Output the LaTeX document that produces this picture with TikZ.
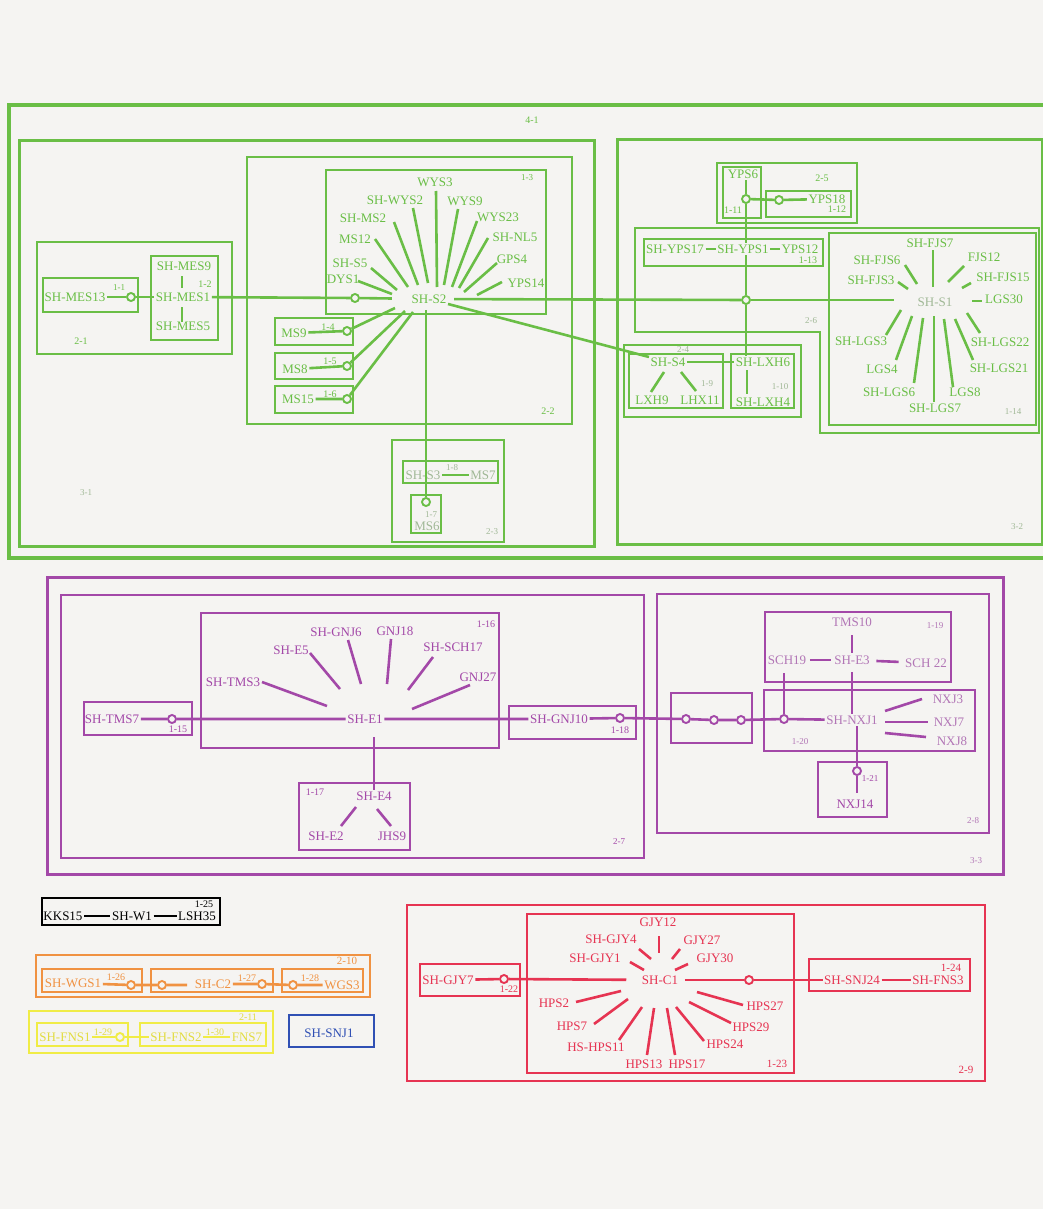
\documentclass[tikz,border=0pt]{standalone}
\usepackage{fontspec}
\setmainfont{Liberation Serif}
\definecolor{bg}{RGB}{245,244,242}
\definecolor{G}{RGB}{106,190,70}
\definecolor{Gf}{RGB}{160,184,150}
\definecolor{P}{RGB}{163,72,168}
\definecolor{Pm}{RGB}{178,118,182}
\definecolor{R}{RGB}{230,52,82}
\definecolor{O}{RGB}{240,146,66}
\definecolor{Y}{RGB}{240,236,70}
\definecolor{Yt}{RGB}{226,220,64}
\definecolor{B}{RGB}{48,80,180}
\newcommand\segm[4]{\coordinate (#1a) at (#3);\coordinate (#1b) at (#4);\draw[#2] (#1a) -- (#1b);}
\tikzset{
 tx/.style={inner sep=1.5pt, font=\fontsize{13}{14}\selectfont},
 lb/.style={inner sep=0pt, font=\fontsize{10}{11}\selectfont},
 lbs/.style={inner sep=0pt, font=\fontsize{9}{10}\selectfont},
 bx/.style={line width=2.8pt},
 ln/.style={line width=2.6pt},
 cir/.style={circle, draw, line width=1.9pt, minimum size=8pt, inner sep=0pt, fill=bg},
 gt/.style={tx,text=G}, gft/.style={tx,text=Gf},
 gb/.style={bx,draw=G}, gl/.style={ln,draw=G}, gc/.style={cir,draw=G},
 pt/.style={tx,text=P}, pmt/.style={tx,text=Pm},
 pb/.style={bx,draw=P}, pl/.style={ln,draw=P}, pc/.style={cir,draw=P},
 rt/.style={tx,text=R}, rb/.style={bx,draw=R}, rl/.style={ln,draw=R}, rc/.style={cir,draw=R},
 ot/.style={tx,text=O}, ob/.style={bx,draw=O}, ol/.style={ln,draw=O}, oc/.style={cir,draw=O},
 yt/.style={tx,text=Yt}, yb/.style={bx,draw=Y}, yl/.style={ln,draw=Y}, yc/.style={cir,draw=Y},
}
\begin{document}
\begin{tikzpicture}[x=1pt,y=-1pt]
\useasboundingbox (0,0) rectangle (1043,1209);
\fill[bg] (0,0) rectangle (1043,1209);

% ================= GREEN =================
\draw[gb,line width=3.3pt] (9,105) rectangle (1046,558);
\node[lb,text=G] (l41) at (532,120) {4-1};
\draw[gb,line width=3pt] (19,141) rectangle (594,546);
\node[lbs,text=Gf] (l31) at (86,493) {3-1};
\draw[gb] (37,242) rectangle (232,354);
\node[lb,text=G] (l21) at (81,341) {2-1};
\draw[gb] (43,278) rectangle (138,312);
\node[lbs,text=G] (l11) at (119,288) {1-1};
\draw[gb] (151,256) rectangle (218,340);
\node[lb,text=G] (l12) at (205,284) {1-2};
\draw[gb] (247,157) rectangle (572,424);
\node[lb,text=G] (l22) at (548,411) {2-2};
\draw[gb] (326,170) rectangle (546,314);
\node[lbs,text=G] (l13) at (527,178) {1-3};
\draw[gb] (275,318) rectangle (353,345);
\node[lb,text=G] (l14) at (328,327) {1-4};
\draw[gb] (275,353) rectangle (353,379);
\node[lb,text=G] (l15) at (330,361) {1-5};
\draw[gb] (275,386) rectangle (353,413);
\node[lb,text=G] (l16) at (330,394) {1-6};
\draw[gb] (392,440) rectangle (504,542);
\node[lbs,text=Gf] (l23) at (492,532) {2-3};
\draw[gb] (403,461) rectangle (498,483);
\node[lbs,text=Gf] (l18) at (452,468) {1-8};
\draw[gb] (411,495) rectangle (441,533);
\node[lbs,text=Gf] (l17) at (431,515) {1-7};

\draw[gb,line width=3pt] (617,140) rectangle (1042,544);
\node[lbs,text=Gf] (l32) at (1017,527) {3-2};
\draw[gb] (717,163) rectangle (857,223);
\node[lb,text=G] (l25) at (822,178) {2-5};
\draw[gb] (723,167) rectangle (761,218);
\node[lb,text=G] (l111) at (733,210) {1-11};
\draw[gb] (766,191) rectangle (851,217);
\node[lb,text=G] (l112) at (837,209) {1-12};
\draw[gb] (635,228) -- (1039,228) -- (1039,433) -- (820,433) -- (820,332) -- (635,332) -- cycle;
\node[lbs,text=Gf] (l26) at (811,321) {2-6};
\draw[gb] (644,239) rectangle (823,266);
\node[lb,text=G] (l113) at (808,260) {1-13};
\draw[gb] (829,233) rectangle (1036,425);
\node[lbs,text=Gf] (l114) at (1013,412) {1-14};
\draw[gb] (624,345) rectangle (801,417);
\node[lbs,text=Gf] (l24) at (683,350) {2-4};
\draw[gb] (629,354) rectangle (723,408);
\node[lbs,text=Gf] (l19) at (707,384) {1-9};
\draw[gb] (731,354) rectangle (794,408);
\node[lbs,text=Gf] (l110) at (780,387) {1-10};

% green nodes
\node[gt] (mes13) at (75,297) {SH-MES13};
\node[gc] (c11) at (131,297) {};
\node[gt] (mes9) at (184,266) {SH-MES9};
\node[gt] (mes1) at (183,297) {SH-MES1};
\node[gt] (mes5) at (183,326) {SH-MES5};
\node[gc] (c13) at (355,298) {};
\node[gt] (s2) at (429,299) {SH-S2};
\node[gt] (dys1) at (343,279) {DYS1};
\node[gt] (shs5) at (350,263) {SH-S5};
\node[gt] (ms12) at (355,239) {MS12};
\node[gt] (shms2) at (363,218) {SH-MS2};
\node[gt] (wys2) at (395,200) {SH-WYS2};
\node[gt] (wys3) at (435,182) {WYS3};
\node[gt] (wys9) at (465,201) {WYS9};
\node[gt] (wys23) at (498,217) {WYS23};
\node[gt] (nl5) at (515,237) {SH-NL5};
\node[gt] (gps4) at (512,259) {GPS4};
\node[gt] (yps14) at (526,283) {YPS14};
\node[gt] (ms9) at (294,333) {MS9};
\node[gc] (c14) at (347,331) {};
\node[gt] (ms8) at (295,369) {MS8};
\node[gc] (c15) at (347,366) {};
\node[gt] (ms15) at (298,399) {MS15};
\node[gc] (c16) at (347,399) {};
\node[gft] (s3) at (423,475) {SH-S3};
\node[gft] (ms7) at (483,475) {MS7};
\node[gft] (ms6) at (427,526) {MS6};
\node[gc] (c17) at (426,502) {};

\node[gt] (yps6) at (743,174) {YPS6};
\node[gc] (c111) at (746,199) {};
\node[gc] (c112) at (779,200) {};
\node[gt] (yps18) at (827,199) {YPS18};
\node[gt] (yps17) at (675,249) {SH-YPS17};
\node[gt] (yps1) at (743,249) {SH-YPS1};
\node[gt] (yps12) at (800,249) {YPS12};
\node[gc] (c26) at (746,300) {};
\node[gt] (s4) at (668,362) {SH-S4};
\node[gt] (lxh9) at (652,400) {LXH9};
\node[gt] (lhx11) at (700,400) {LHX11};
\node[gt] (lxh6) at (763,362) {SH-LXH6};
\node[gt] (lxh4) at (763,402) {SH-LXH4};
\node[gft] (s1) at (935,302) {SH-S1};
\node[gt] (fjs7) at (930,243) {SH-FJS7};
\node[gt] (fjs6) at (877,260) {SH-FJS6};
\node[gt] (fjs3) at (871,280) {SH-FJS3};
\node[gt] (fjs12) at (984,257) {FJS12};
\node[gt] (fjs15) at (1003,277) {SH-FJS15};
\node[gt] (lgs30) at (1004,299) {LGS30};
\node[gt] (lgs3) at (861,341) {SH-LGS3};
\node[gt] (lgs4) at (882,369) {LGS4};
\node[gt] (lgs6) at (889,392) {SH-LGS6};
\node[gt] (lgs7) at (935,408) {SH-LGS7};
\node[gt] (lgs8) at (965,392) {LGS8};
\node[gt] (lgs21) at (999,368) {SH-LGS21};
\node[gt] (lgs22) at (1000,342) {SH-LGS22};

% green connectors
\draw[gl] (mes13) -- (c11) -- (mes1);
\segm{m1}{gl}{182,276}{182,288}
\segm{m2}{gl}{182,307}{182,322}
\draw[gl] (mes1) -- (c13);
\draw[gl,shorten >=18pt] (c13) -- (s2);
\draw[gl,shorten <=6pt] (s2) -- (c26);
\draw[gl,shorten >=22pt] (c26) -- (s1.west |- c26);
\segm{a1}{gl}{358,281}{392,294}
\segm{a2}{gl}{371,268}{397,290}
\segm{a3}{gl}{375,239}{408,287}
\segm{a4}{gl}{394,222}{418,285}
\segm{a5}{gl}{413,208}{428,283}
\segm{a6}{gl}{436,191}{437,287}
\segm{a7}{gl}{458,209}{444,285}
\segm{a8}{gl}{477,221}{452,287}
\segm{a9}{gl}{488,238}{459,288}
\segm{a10}{gl}{497,263}{464,292}
\segm{a11}{gl}{502,282}{477,295}
\coordinate (b1) at (395,308);
\coordinate (b2) at (405,311);
\coordinate (b3) at (413,312);
\draw[gl] (ms9) -- (c14) -- (b1);
\draw[gl] (ms8) -- (c15) -- (b2);
\draw[gl] (ms15) -- (c16) -- (b3);
\coordinate (s2d) at (426,310);
\draw[gl] (s2d) -- (c17);
\draw[gl] (s3) -- (ms7);
\draw[gl] (s2) -- (s4);
\draw[gl] (yps6.south -| c111) -- (c111) -- (yps1.north -| c111);
\draw[gl] (c111) -- (c112) -- (yps18);
\draw[gl] (yps1.south -| c26) -- (c26) -- (lxh6.north -| c26);
\draw[gl] (yps17) -- (yps1) -- (yps12);
\draw[gl] (s4) -- (lxh6);
\segm{x1}{gl}{664,372}{651,392}
\segm{x2}{gl}{681,372}{696,391}
\segm{x3}{gl}{747,370}{747,394}
\segm{f1}{gl}{933,250}{933,287}
\segm{f2}{gl}{905,265}{917,284}
\segm{f3}{gl}{898,282}{908,289}
\segm{f4}{gl}{964,266}{948,282}
\segm{f5}{gl}{971,283}{962,288}
\segm{f6}{gl}{972,301}{982,301}
\segm{f7}{gl}{886,335}{901,310}
\segm{f8}{gl}{896,360}{912,316}
\segm{f9}{gl}{914,383}{923,318}
\segm{f10}{gl}{934,402}{934,316}
\segm{f11}{gl}{953,387}{944,319}
\segm{f12}{gl}{973,360}{955,319}
\segm{f13}{gl}{980,333}{967,313}

% ================= PURPLE =================
\draw[pb,line width=3pt] (47,577) rectangle (1003,874);
\node[lbs,text=Pm] (l33) at (976,861) {3-3};
\draw[pb] (61,595) rectangle (644,858);
\node[lbs,text=P] (l27) at (619,842) {2-7};
\draw[pb] (201,613) rectangle (499,748);
\node[lb,text=P] (l116) at (486,624) {1-16};
\draw[pb] (84,702) rectangle (192,735);
\node[lb,text=P] (l115) at (178,729) {1-15};
\draw[pb] (299,783) rectangle (410,850);
\node[lb,text=P] (l117) at (315,792) {1-17};
\draw[pb] (509,706) rectangle (636,739);
\node[lb,text=P] (l118) at (620,730) {1-18};
\draw[pb] (657,594) rectangle (989,833);
\node[lbs,text=Pm] (l28) at (973,821) {2-8};
\draw[pb] (671,693) rectangle (752,743);
\draw[pb] (765,612) rectangle (951,682);
\node[lbs,text=Pm] (l119) at (935,626) {1-19};
\draw[pb] (764,690) rectangle (975,751);
\node[lbs,text=Pm] (l120) at (800,742) {1-20};
\draw[pb] (818,762) rectangle (887,817);
\node[lbs,text=P] (l121) at (870,779) {1-21};

\node[pt] (tms7) at (112,719) {SH-TMS7};
\node[pc] (c115) at (172,719) {};
\node[pt] (e1) at (365,719) {SH-E1};
\node[pt] (tms3) at (233,682) {SH-TMS3};
\node[pt] (e5) at (291,650) {SH-E5};
\node[pt] (gnj6) at (336,632) {SH-GNJ6};
\node[pt] (gnj18) at (395,631) {GNJ18};
\node[pt] (sch17) at (453,647) {SH-SCH17};
\node[pt] (gnj27) at (478,677) {GNJ27};
\node[pt] (e4) at (374,796) {SH-E4};
\node[pt] (e2) at (326,836) {SH-E2};
\node[pt] (jhs9) at (392,836) {JHS9};
\node[pt] (gnj10) at (559,719) {SH-GNJ10};
\node[pc] (c118) at (620,718) {};
\node[pc] (ca) at (686,719) {};
\node[pc] (cb) at (714,720) {};
\node[pc] (cc) at (741,720) {};
\node[pc] (c120) at (784,719) {};
\node[pmt] (nxj1) at (852,720) {SH-NXJ1};
\node[pmt] (tms10) at (852,622) {TMS10};
\node[pmt] (e3) at (852,660) {SH-E3};
\node[pmt] (sch19) at (787,660) {SCH19};
\node[pmt] (sch22) at (926,663) {SCH 22};
\node[pmt] (nxj3) at (948,699) {NXJ3};
\node[pmt] (nxj7) at (949,722) {NXJ7};
\node[pmt] (nxj8) at (952,741) {NXJ8};
\node[pc] (c121) at (857,771) {};
\node[pt] (nxj14) at (855,804) {NXJ14};

\draw[pl] (tms7) -- (c115) -- (e1) -- (gnj10) -- (c118) -- (ca) -- (cb) -- (cc) -- (c120) -- (nxj1);
\segm{e1s1}{pl}{262,682}{327,706}
\segm{e1s2}{pl}{310,653}{340,689}
\segm{e1s3}{pl}{348,640}{361,684}
\segm{e1s4}{pl}{391,639}{387,684}
\segm{e1s5}{pl}{433,657}{408,690}
\segm{e1s6}{pl}{470,685}{412,709}
\coordinate (e1d) at (374,737);
\draw[pl] (e1d) -- (e4);
\segm{e4a}{pl}{356,807}{341,826}
\segm{e4b}{pl}{377,809}{391,826}
\draw[pl,shorten <=2pt,shorten >=2pt] (sch19) -- (e3);
\draw[pl,shorten <=5pt,shorten >=5pt] (e3) -- (sch22);
\draw[pl,shorten <=7pt,shorten >=1pt] (tms10) -- (e3);
\draw[pl,shorten <=6pt] (e3) -- (nxj1);
\draw[pl,shorten <=7pt] (sch19.south -| c120) -- (c120);
\segm{n3}{pl}{885,711}{922,699}
\segm{n7}{pl}{885,722}{928,722}
\segm{n8}{pl}{885,733}{926,737}
\coordinate (n14) at (857,793);
\draw[pl] (nxj1.south -| c121) -- (c121) -- (n14);

% ================= BLACK =================
\draw[line width=2.8pt,black] (42,898) rectangle (220,925);
\node[lb,text=black] (l125) at (204,904) {1-25};
\node[tx,text=black] (kks15) at (63,916) {KKS15};
\node[tx,text=black] (w1) at (132,916) {SH-W1};
\node[tx,text=black] (lsh35) at (197,916) {LSH35};
\draw[line width=2.6pt,black] (kks15) -- (w1) -- (lsh35);

% ================= ORANGE =================
\draw[ob] (36,955) rectangle (370,997);
\node[inner sep=0pt,font=\fontsize{11}{12}\selectfont,text=O] (l210) at (347,961) {2-10};
\draw[ob] (42,969) rectangle (142,992);
\node[lb,text=O] (l126) at (116,977) {1-26};
\draw[ob] (151,969) rectangle (273,992);
\node[lb,text=O] (l127) at (247,978) {1-27};
\draw[ob] (282,969) rectangle (363,992);
\node[lb,text=O] (l128) at (310,978) {1-28};
\node[ot] (wgs1) at (73,983) {SH-WGS1};
\node[oc] (c126) at (131,985) {};
\node[oc] (c127a) at (162,985) {};
\coordinate (o1) at (187,985);
\node[ot] (c2) at (213,984) {SH-C2};
\node[oc] (c127) at (262,984) {};
\node[oc] (c128) at (293,985) {};
\node[ot] (wgs3) at (342,985) {WGS3};
\draw[ol] (wgs1) -- (c126) -- (c127a) -- (o1);
\draw[ol] (c2) -- (c127) -- (c128) -- (wgs3);

% ================= YELLOW =================
\draw[yb] (29,1011) rectangle (273,1053);
\node[lb,text=Yt] (l211) at (248,1017) {2-11};
\draw[yb] (37,1023) rectangle (128,1046);
\node[lb,text=Yt] (l129) at (103,1032) {1-29};
\draw[yb] (140,1023) rectangle (266,1046);
\node[lb,text=Yt] (l130) at (215,1032) {1-30};
\node[yt] (fns1) at (65,1037) {SH-FNS1};
\node[yc] (c129) at (120,1037) {};
\node[yt] (fns2) at (176,1037) {SH-FNS2};
\node[yt] (fns7) at (247,1037) {FNS7};
\draw[yl] (fns1) -- (c129) -- (fns2);
\draw[yl] (fns2) -- (fns7);

% ================= BLUE =================
\draw[bx,draw=B] (289,1015) rectangle (374,1047);
\node[tx,text=B] (snj1) at (329,1033) {SH-SNJ1};

% ================= RED =================
\draw[rb] (407,905) rectangle (985,1081);
\node[inner sep=0pt,font=\fontsize{11}{12}\selectfont,text=R] (l29) at (966,1070) {2-9};
\draw[rb] (527,914) rectangle (794,1073);
\node[inner sep=0pt,font=\fontsize{11}{12}\selectfont,text=R] (l123) at (777,1064) {1-23};
\draw[rb] (420,964) rectangle (520,996);
\node[lb,text=R] (l122) at (509,989) {1-22};
\draw[rb] (809,959) rectangle (970,991);
\node[inner sep=0pt,font=\fontsize{11}{12}\selectfont,text=R] (l124) at (951,968) {1-24};
\node[rt] (gjy7) at (448,980) {SH-GJY7};
\node[rc] (c122) at (504,979) {};
\node[rt] (c1) at (660,980) {SH-C1};
\node[rc] (c124) at (749,980) {};
\node[rt] (snj24) at (852,980) {SH-SNJ24};
\node[rt] (fns3) at (938,980) {SH-FNS3};
\node[rt] (gjy12) at (658,922) {GJY12};
\node[rt] (gjy4) at (611,939) {SH-GJY4};
\node[rt] (gjy27) at (702,940) {GJY27};
\node[rt] (gjy1) at (595,958) {SH-GJY1};
\node[rt] (gjy30) at (715,958) {GJY30};
\node[rt] (hps2) at (554,1003) {HPS2};
\node[rt] (hps7) at (572,1026) {HPS7};
\node[rt] (hps11) at (596,1047) {HS-HPS11};
\node[rt] (hps13) at (644,1064) {HPS13};
\node[rt] (hps17) at (687,1064) {HPS17};
\node[rt] (hps24) at (725,1044) {HPS24};
\node[rt] (hps29) at (751,1027) {HPS29};
\node[rt] (hps27) at (765,1006) {HPS27};
\draw[rl] (gjy7) -- (c122);
\draw[rl,shorten >=14pt] (c122) -- (c1);
\draw[rl,shorten <=5pt] (c1) -- (c124);
\draw[rl] (c124) -- (snj24);
\draw[rl] (snj24) -- (fns3);
\segm{r1}{rl}{659,936}{659,953}
\segm{r2}{rl}{639,949}{651,959}
\segm{r3}{rl}{680,949}{672,959}
\segm{r4}{rl}{630,962}{644,970}
\segm{r5}{rl}{688,964}{675,970}
\segm{r6}{rl}{576,1002}{621,991}
\segm{r7}{rl}{594,1024}{628,999}
\segm{r8}{rl}{619,1040}{642,1007}
\segm{r9}{rl}{647,1055}{654,1008}
\segm{r10}{rl}{675,1055}{667,1008}
\segm{r11}{rl}{704,1041}{676,1007}
\segm{r12}{rl}{731,1023}{689,1002}
\segm{r13}{rl}{743,1005}{697,992}
\end{tikzpicture}
\end{document}
